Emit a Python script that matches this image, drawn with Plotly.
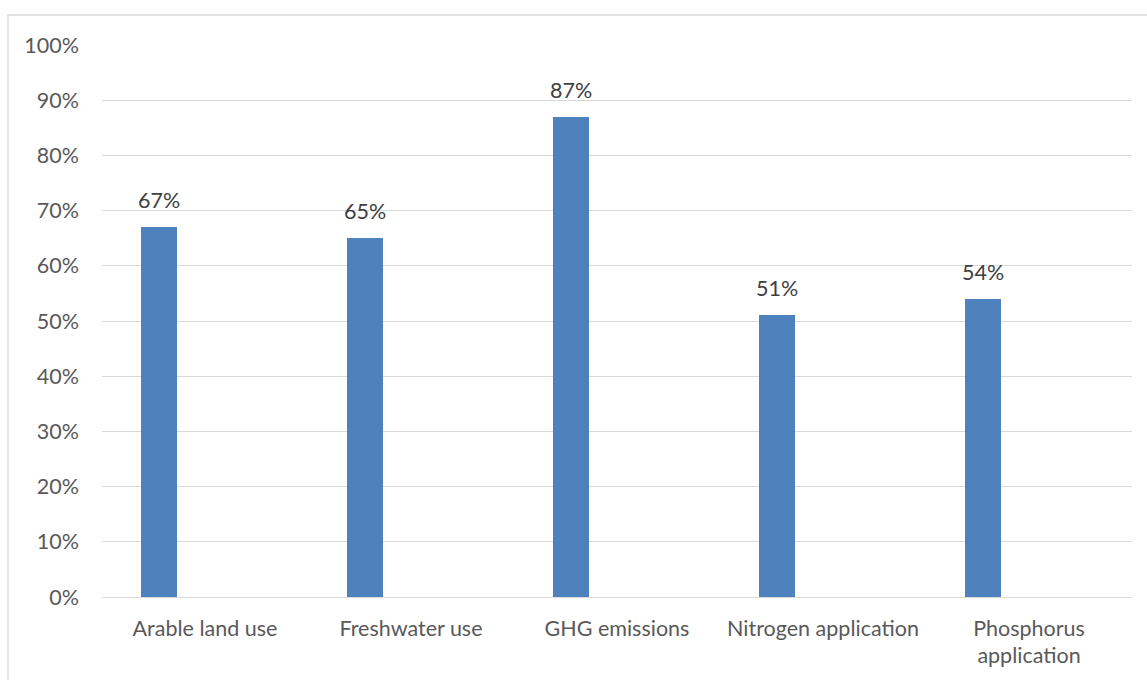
import plotly.graph_objects as go

categories = ["Arable land use", "Freshwater use", "GHG emissions",
              "Nitrogen application", "Phosphorus<br>application"]
values = [0.67, 0.65, 0.87, 0.51, 0.54]
y_ticks = [0, 0.1, 0.2, 0.3, 0.4, 0.5, 0.6, 0.7, 0.8, 0.9, 1.0]

FONT = "Lato, 'Liberation Sans', sans-serif"
BAR_W = 0.172
BAR_OFF = -0.31

fig = go.Figure()
fig.add_trace(go.Bar(
    x=categories, y=values,
    width=BAR_W, offset=BAR_OFF,
    marker=dict(color="#4f81bd", line=dict(width=0)),
    cliponaxis=False,
))

for i, v in enumerate(values):
    fig.add_annotation(
        x=i + BAR_OFF + BAR_W / 2, y=v, xref="x", yref="y",
        text=f"{round(v*100)}%", showarrow=False,
        yanchor="bottom", yshift=12,
        font=dict(family=FONT, size=21.5, color="#404040"),
    )

W, H = 1147, 680
ml, mr, mt, mb = 102, 15, 45, 83
pw = W - ml - mr
ph = H - mt - mb
x0 = (8 - ml) / pw
ytop = (H - mb - 15) / ph
ybot = (H - mb - 700) / ph
xend = (W + 10 - ml) / pw

fig.update_layout(
    width=W, height=H,
    margin=dict(l=ml, r=mr, t=mt, b=mb),
    paper_bgcolor="white", plot_bgcolor="white",
    showlegend=False,
    bargap=0,
    xaxis=dict(
        tickfont=dict(family=FONT, size=21.5, color="#595959"),
        showgrid=False, showline=False, ticks="",
        ticklabelstandoff=16,
    ),
    yaxis=dict(
        range=[0, 1.0], tickvals=y_ticks, tickformat=".0%",
        tickfont=dict(family=FONT, size=21.5, color="#595959"),
        showgrid=True, gridcolor="#d9d9d9", gridwidth=1.3,
        zeroline=True, zerolinecolor="#d9d9d9", zerolinewidth=1.3,
        showline=False, ticks="", ticklabelstandoff=22,
    ),
    shapes=[dict(
        type="path", xref="paper", yref="paper",
        path=f"M {x0},{ybot} L {x0},{ytop} L {xend},{ytop}",
        line=dict(color="#d9d9d9", width=1.3),
    )],
)

fig.write_html("out.html")
